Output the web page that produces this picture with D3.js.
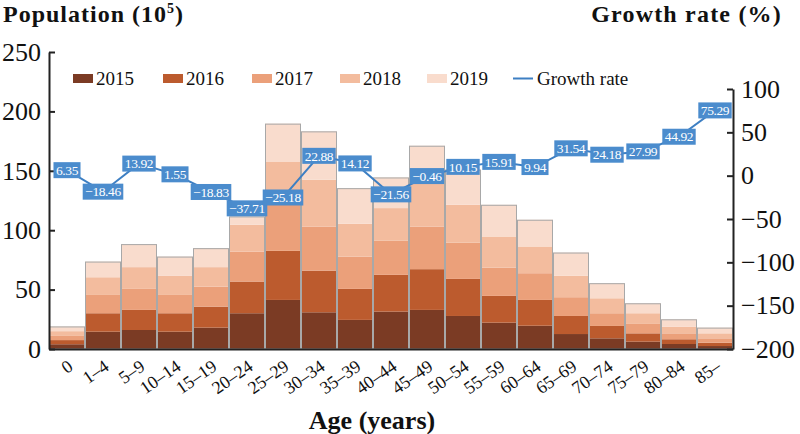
<!DOCTYPE html>
<html><head><meta charset="utf-8">
<script src="https://cdn.jsdelivr.net/npm/d3@7"></script>
<style>body{margin:0;background:#fff}svg{display:block}</style>
</head><body>
<svg id="c" width="800" height="434"></svg>
<script>
const categories = ["0","1–4","5–9","10–14","15–19","20–24","25–29","30–34","35–39","40–44","45–49","50–54","55–59","60–64","65–69","70–74","75–79","80–84","85–"];
const years = ["2015","2016","2017","2018","2019"];
const pop2015 = [4, 14.6, 16, 14.6, 18, 30.1, 41.3, 30.9, 24.5, 31.5, 32.9, 27.8, 22.2, 19.6, 12.6, 9, 6.2, 4.2, 2.5];
const pop2016 = [3.5, 15.5, 16.9, 15.5, 17.7, 26.7, 41.3, 35.1, 26.1, 30.9, 34.3, 31.2, 22.5, 21.7, 15.2, 10.4, 7, 4, 2.8];
const pop2017 = [3.5, 15.4, 17.7, 15.4, 16.8, 25.2, 41.4, 37.1, 27.2, 28.7, 35.9, 30.6, 23.8, 22.5, 15.8, 10.7, 7.9, 5, 3.7];
const pop2018 = [4, 14.9, 18.3, 16.3, 16.4, 22.6, 33.4, 39.4, 27.6, 27.5, 39, 31.8, 26.2, 22.5, 18, 12.6, 9, 5.6, 4.2];
const pop2019 = [4, 13.2, 19.4, 16, 16, 7, 32.3, 40.7, 30, 25.8, 29, 29.6, 26.7, 22.5, 19.6, 12.7, 8.4, 6.2, 4.8];
const growthRate = [6.35, -18.46, 13.92, 1.55, -18.83, -37.71, -25.18, 22.88, 14.12, -21.56, -0.46, 10.15, 15.91, 9.94, 31.54, 24.18, 27.99, 44.92, 75.29];
const leftTicks = [0, 50, 100, 150, 200, 250];
const rightTicks = [-200, -150, -100, -50, 0, 50, 100];
const colors = ["#7b3b24", "#bc5b2e", "#eba07a", "#f3bc9e", "#f9dccd"];
const lineColor = "#3d7fc3";
const boxColor = "#4b8ccd";

const series = [pop2015, pop2016, pop2017, pop2018, pop2019];
const table = categories.map((c, i) => {
  const o = {cat: c};
  years.forEach((y, k) => o[y] = series[k][i]);
  return o;
});
const stacked = d3.stack().keys(years)(table);

const FONT = "'Liberation Serif','Times New Roman',serif";
const svg = d3.select("#c");
const L = 49, R = 733, B = 349;
const x = d3.scaleBand().domain(categories).range([L, R]).padding(0);
const yL = d3.scaleLinear().domain([0, 250]).range([B, 52]);
const yR = d3.scaleLinear().domain([-200, 100]).range([B, 89]);

// bars
const gBars = svg.append("g");
stacked.forEach((s, k) => {
  gBars.selectAll(null).data(s).enter().append("rect")
    .attr("x", d => x(d.data.cat))
    .attr("width", x.bandwidth())
    .attr("y", d => yL(d[1]))
    .attr("height", d => yL(d[0]) - yL(d[1]))
    .attr("fill", colors[k]);
});
const topLayer = stacked[stacked.length - 1];
gBars.selectAll(null).data(topLayer).enter().append("rect")
  .attr("x", d => x(d.data.cat) + 0.5)
  .attr("width", x.bandwidth() - 1)
  .attr("y", d => yL(d[1]) + 0.5)
  .attr("height", d => yL(0) - yL(d[1]) - 0.5)
  .attr("fill", "none").attr("stroke", "#a8a8a8").attr("stroke-width", 1);

// axes
const axL = svg.append("g").attr("transform", `translate(${L},0)`)
  .call(d3.axisLeft(yL).tickValues(leftTicks).tickSizeInner(-6).tickSizeOuter(0).tickPadding(8));
const axR = svg.append("g").attr("transform", `translate(${R},0)`)
  .call(d3.axisRight(yR).tickValues(rightTicks).tickSizeInner(-6).tickSizeOuter(0).tickPadding(8)
    .tickFormat(d => d < 0 ? "−" + Math.abs(d) : d));
const axB = svg.append("g").attr("transform", `translate(0,${B})`)
  .call(d3.axisBottom(x).tickSize(0).tickSizeOuter(0).tickPadding(0));
[axL, axR, axB].forEach(a => {
  a.select(".domain").attr("stroke", "#222").attr("stroke-width", 2);
  a.selectAll(".tick line").attr("stroke", "#222").attr("stroke-width", 2);
  a.selectAll("text").attr("font-family", FONT).attr("fill", "#111");
});
axL.selectAll("text").attr("font-size", 26);
axR.selectAll("text").attr("font-size", 26);
axB.selectAll(".tick text")
  .attr("font-size", 18)
  .attr("text-anchor", "end")
  .attr("dy", 0).attr("y", 0)
  .attr("transform", "translate(7,20) rotate(-35)");

// growth line
const cx = c => x(c) + x.bandwidth() / 2;
svg.append("path")
  .datum(growthRate)
  .attr("d", d3.line().x((d, i) => cx(categories[i])).y(d => yR(d)))
  .attr("fill", "none").attr("stroke", lineColor).attr("stroke-width", 2);

const lab = svg.append("g").selectAll("g").data(growthRate).enter().append("g")
  .attr("transform", (d, i) => `translate(${cx(categories[i])},${yR(d)})`);
lab.each(function(d) {
  const g = d3.select(this);
  const rect = g.append("rect");
  const t = g.append("text").text(d < 0 ? "−" + Math.abs(d).toFixed(2) : d.toFixed(2))
    .attr("font-family", FONT).attr("font-size", 13.5).attr("letter-spacing", -0.4)
    .attr("fill", "#fff").attr("text-anchor", "middle").attr("dy", "0.35em");
  const w = t.node().getComputedTextLength() + 5;
  rect.attr("x", -w / 2).attr("y", -8).attr("width", w).attr("height", 16)
    .attr("fill", boxColor);
});

// legend
const legX = [73, 163, 252, 340, 427];
const lg = svg.append("g");
years.forEach((y, k) => {
  lg.append("rect").attr("x", legX[k]).attr("y", 74).attr("width", 20).attr("height", 9).attr("fill", colors[k]);
  lg.append("text").attr("x", legX[k] + 23).attr("y", 85).text(y)
    .attr("font-family", FONT).attr("font-size", 19).attr("fill", "#111");
});
lg.append("line").attr("x1", 513).attr("x2", 533).attr("y1", 78.5).attr("y2", 78.5)
  .attr("stroke", lineColor).attr("stroke-width", 2);
lg.append("text").attr("x", 537).attr("y", 85).text("Growth rate")
  .attr("font-family", FONT).attr("font-size", 19).attr("fill", "#111");

// titles
const t1 = svg.append("text").attr("x", 3).attr("y", 22)
  .attr("font-family", FONT).attr("font-size", 24).attr("font-weight", "bold").attr("fill", "#111")
  .attr("letter-spacing", 1);
t1.append("tspan").text("Population (10");
t1.append("tspan").text("5").attr("font-size", 14).attr("dy", -9);
t1.append("tspan").text(")").attr("dy", 9);
svg.append("text").attr("x", 782).attr("y", 22).attr("text-anchor", "end")
  .text("Growth rate (%)").attr("letter-spacing", 1.2)
  .attr("font-family", FONT).attr("font-size", 24).attr("font-weight", "bold").attr("fill", "#111");
svg.append("text").attr("x", 372).attr("y", 429).attr("text-anchor", "middle")
  .text("Age (years)")
  .attr("font-family", FONT).attr("font-size", 26).attr("font-weight", "bold").attr("fill", "#111");
</script>
</body></html>
